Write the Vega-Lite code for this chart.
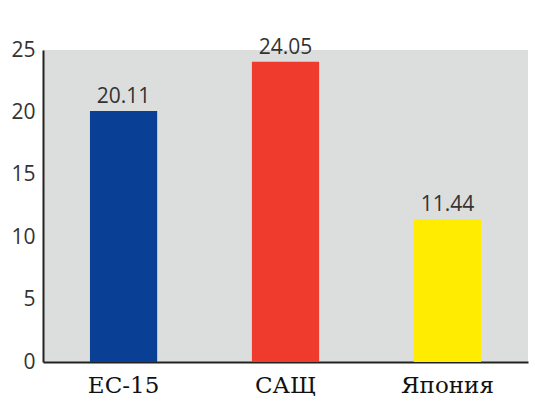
{
  "$schema": "https://vega.github.io/schema/vega-lite/v6.json",
  "autosize": {"type": "none"},
  "width": 485,
  "height": 312,
  "padding": {"left": 43, "top": 50, "right": 11, "bottom": 34},
  "background": "#ffffff",
  "config": {
    "view": {"fill": "#dcdedd", "stroke": null},
    "axis": {"grid": false, "ticks": false, "domainColor": "#222222", "domainWidth": 2, "title": null}
  },
  "data": {
    "values": [
      {"region": "ЕС-15", "value": 20.11},
      {"region": "САЩ", "value": 24.05},
      {"region": "Япония", "value": 11.44}
    ]
  },
  "encoding": {
    "x": {
      "field": "region",
      "type": "nominal",
      "sort": null,
      "scale": {"paddingInner": 0.585, "paddingOuter": 0.29},
      "axis": {
        "labelAngle": 0,
        "labelFont": "DejaVu Serif",
        "labelFontSize": 23,
        "labelColor": "#111111",
        "labelBaseline": "alphabetic",
        "labelPadding": 30
      }
    },
    "y": {
      "field": "value",
      "type": "quantitative",
      "scale": {"domain": [0, 25], "nice": false},
      "axis": {
        "values": [0, 5, 10, 15, 20, 25],
        "labelFont": "Open Sans",
        "labelFontSize": 21,
        "labelColor": "#333333",
        "labelPadding": 8
      }
    }
  },
  "layer": [
    {
      "mark": {"type": "bar"},
      "encoding": {
        "color": {
          "field": "region",
          "type": "nominal",
          "sort": null,
          "scale": {"domain": ["ЕС-15", "САЩ", "Япония"], "range": ["#0a3f96", "#ef3b2d", "#ffec00"]},
          "legend": null
        }
      }
    },
    {
      "mark": {"type": "text", "baseline": "alphabetic", "dy": -8, "font": "Open Sans", "fontSize": 21, "color": "#333333"},
      "encoding": {
        "text": {"field": "value", "type": "quantitative", "format": ".2f"}
      }
    }
  ]
}
